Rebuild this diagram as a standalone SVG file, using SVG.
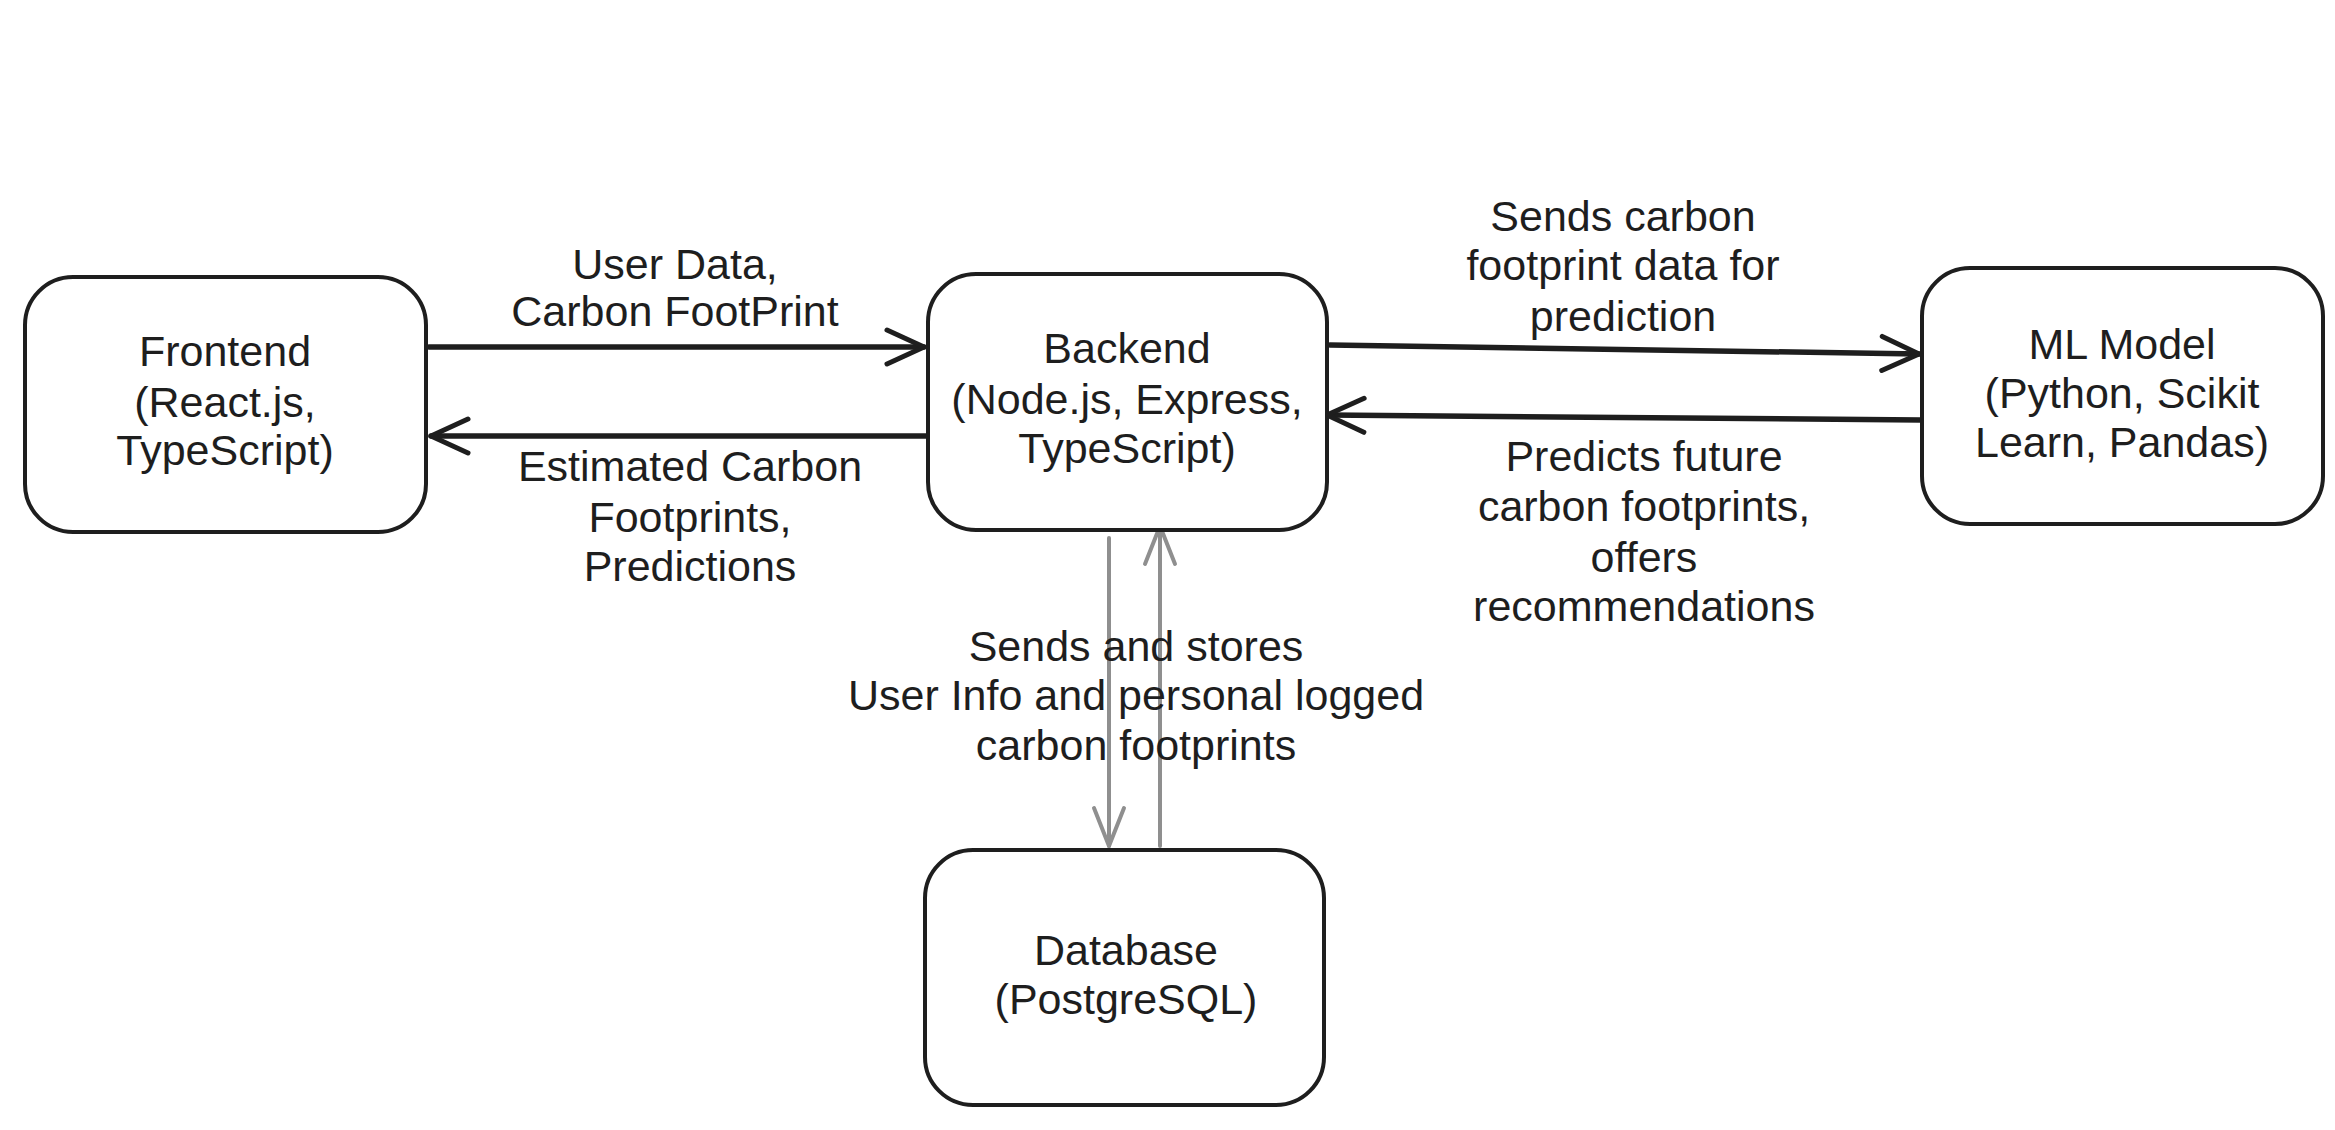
<svg xmlns="http://www.w3.org/2000/svg" width="2335" height="1130" viewBox="0 0 2335 1130">
<style>
.box{fill:#ffffff;stroke:#1e1e1e;stroke-width:4}
.t{font-family:"Liberation Sans","Open Sans",sans-serif;font-size:43px;fill:#1e1e1e;text-anchor:middle}
.v{font-family:"Liberation Sans","Open Sans",sans-serif;font-size:43px;fill:#1e1e1e;text-anchor:middle}
.blk{fill:none;stroke:#1e1e1e;stroke-width:5.5;stroke-linecap:round}
.gry{fill:none;stroke:#8f8f8f;stroke-width:4;stroke-linecap:round}
</style>
<defs>
<marker id="ah" markerUnits="userSpaceOnUse" markerWidth="50" markerHeight="50" refX="42" refY="25" orient="auto" viewBox="0 0 50 50">
<path d="M5,8 L42,25 L5,42" fill="none" stroke="#1e1e1e" stroke-width="5" stroke-linecap="round" stroke-linejoin="round"/>
</marker>
<marker id="ahg" markerUnits="userSpaceOnUse" markerWidth="50" markerHeight="50" refX="42" refY="25" orient="auto" viewBox="0 0 50 50">
<path d="M4,10 L42,25 L4,40" fill="none" stroke="#8f8f8f" stroke-width="4" stroke-linecap="round" stroke-linejoin="round"/>
</marker>
</defs>
<rect width="2335" height="1130" fill="#ffffff"/>
<g id="connectors">
<g id="fe-be">
<line class="blk" x1="429" y1="347" x2="924" y2="347" marker-end="url(#ah)"/>
<text class="t" x="675" y="279">User Data,</text>
<text class="t" x="675" y="326">Carbon FootPrint</text>
</g>
<g id="be-fe">
<line class="blk" x1="926" y1="436" x2="431" y2="436" marker-end="url(#ah)"/>
<text class="t" x="690" y="481">Estimated Carbon</text>
<text class="t" x="690" y="532">Footprints,</text>
<text class="t" x="690" y="581">Predictions</text>
</g>
<g id="be-ml">
<line class="blk" x1="1330" y1="345" x2="1919" y2="354" marker-end="url(#ah)"/>
<text class="t" x="1623" y="231">Sends carbon</text>
<text class="t" x="1623" y="280">footprint data for</text>
<text class="t" x="1623" y="331">prediction</text>
</g>
<g id="ml-be">
<line class="blk" x1="1921" y1="420" x2="1327" y2="415" marker-end="url(#ah)"/>
<text class="t" x="1644" y="471">Predicts future</text>
<text class="t" x="1644" y="521">carbon footprints,</text>
<text class="t" x="1644" y="572">offers</text>
<text class="t" x="1644" y="621">recommendations</text>
</g>
<g id="be-db">
<line class="gry" x1="1109" y1="538" x2="1109" y2="846" marker-end="url(#ahg)"/>
</g>
<g id="db-be">
<line class="gry" x1="1160" y1="846" x2="1160" y2="526" marker-end="url(#ahg)"/>
</g>
<g id="db-label">
<text class="v" x="1136" y="661">Sends and stores</text>
<text class="v" x="1136" y="710">User Info and personal logged</text>
<text class="v" x="1136" y="760">carbon footprints</text>
</g>
</g>
<g id="frontend">
<rect class="box" x="25" y="277" width="401" height="255" rx="48"/>
<text class="t" x="225" y="366">Frontend</text>
<text class="t" x="225" y="417">(React.js,</text>
<text class="t" x="225" y="465">TypeScript)</text>
</g>
<g id="backend">
<rect class="box" x="928" y="274" width="399" height="256" rx="48"/>
<text class="t" x="1127" y="363">Backend</text>
<text class="t" x="1127" y="414">(Node.js, Express,</text>
<text class="t" x="1127" y="463">TypeScript)</text>
</g>
<g id="ml-model">
<rect class="box" x="1922" y="268" width="401" height="256" rx="48"/>
<text class="t" x="2122" y="359">ML Model</text>
<text class="t" x="2122" y="408">(Python, Scikit</text>
<text class="t" x="2122" y="457">Learn, Pandas)</text>
</g>
<g id="database">
<rect class="box" x="925" y="850" width="399" height="255" rx="48"/>
<text class="v" x="1126" y="965">Database</text>
<text class="v" x="1126" y="1014">(PostgreSQL)</text>
</g>
</svg>
